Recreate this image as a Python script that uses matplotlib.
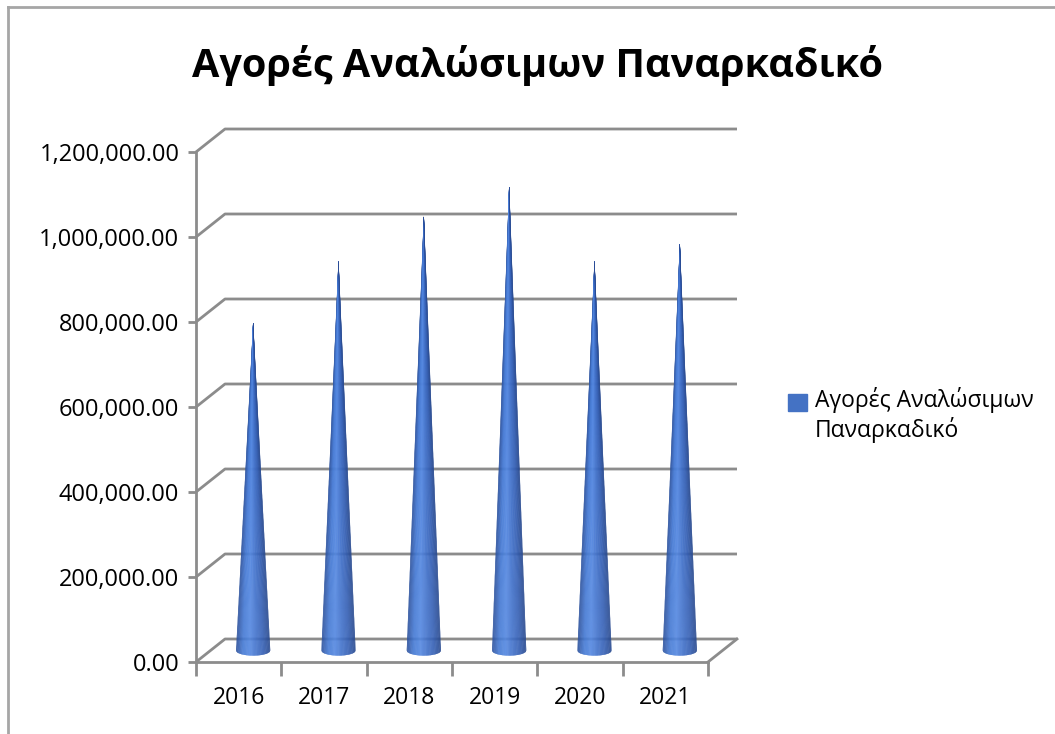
import matplotlib
matplotlib.use("Agg")
import matplotlib.pyplot as plt
import numpy as np
from matplotlib.colors import LinearSegmentedColormap
from matplotlib.patches import Patch

plt.rcParams['font.family'] = ['Open Sans', 'DejaVu Sans']

title = "Αγορές Αναλώσιμων Παναρκαδικό"
series_name = "Αγορές Αναλώσιμων\nΠαναρκαδικό"
years = ["2016", "2017", "2018", "2019", "2020", "2021"]
purchases = [770000, 915000, 1020000, 1090000, 915000, 955000]
y_ticks = [0, 200000, 400000, 600000, 800000, 1000000, 1200000]

W, H, DPI = 1055, 734, 100
grid_col = "#8c8c8c"

fig = plt.figure(figsize=(W / DPI, H / DPI), dpi=DPI)
# front plane of the 3-D box
ax_l, ax_b, ax_w, ax_h = 196, 72, 512, 510
ax = fig.add_axes([ax_l / W, ax_b / H, ax_w / W, ax_h / H])
ax.set_xlim(0, len(years))
ax.set_ylim(0, y_ticks[-1])

# depth of the box in pixels, converted to data units
px_x = len(years) / ax_w
px_y = y_ticks[-1] / ax_h
dx, dy = 29 * px_x, 23 * px_y
n = len(years)

# side wall + back wall gridlines
for v in y_ticks:
    ax.plot([0, dx, n + dx], [v, v + dy, v + dy], color=grid_col, lw=2,
            clip_on=False, zorder=1, solid_capstyle='butt')
# floor
ax.plot([n, n + dx], [0, dy], color=grid_col, lw=2, clip_on=False, zorder=1)

# cones, shaded in vertical slices
cmap = LinearSegmentedColormap.from_list(
    "cone", ["#2c519c", "#4479d4", "#5488e2", "#4272cb", "#3560b5", "#284a90"])
r = 17 * px_x
b = 5 * px_y
ts = np.linspace(-1, 1, 61)
for i, val in enumerate(purchases):
    xc = i + 0.5 + dx / 2
    yb = dy / 2
    for k in range(len(ts) - 1):
        t0, t1 = ts[k], ts[k + 1]
        xs = [xc, xc + t0 * r, xc + t1 * r]
        ys = [val + yb,
              yb - b * np.sqrt(max(0, 1 - t0 ** 2)),
              yb - b * np.sqrt(max(0, 1 - t1 ** 2))]
        c = cmap((t0 + t1) / 4 + 0.5)
        ax.fill(xs, ys, color=c, lw=0.15, ec=c, zorder=3, clip_on=False)

# axes lines and ticks
for s in ["top", "right"]:
    ax.spines[s].set_visible(False)
for s in ["left", "bottom"]:
    ax.spines[s].set_color(grid_col)
    ax.spines[s].set_linewidth(2)
    ax.spines[s].set_zorder(4)

ax.set_yticks(y_ticks)
ax.set_yticklabels([f"{v:,.2f}" for v in y_ticks])
ax.tick_params(axis='y', direction='out', length=6, width=2, color=grid_col,
               labelsize=17, pad=6)
ax.set_xticks(range(n + 1))
ax.set_xticklabels([])
ax.set_xticks(np.arange(n) + 0.5, minor=True)
ax.set_xticklabels(years, minor=True)
ax.tick_params(axis='x', which='major', direction='out', length=10, width=2,
               color=grid_col)
ax.tick_params(axis='x', which='minor', length=0, labelsize=16.5, pad=17)
ax.set_facecolor("none")

fig.text(538 / W, 1 - 66 / H, title, ha='center', va='center',
         fontsize=28.5, fontweight='bold')

leg = fig.legend(handles=[Patch(color="#4472c4", label=series_name)],
                 loc='upper left', bbox_to_anchor=(779 / W, 1 - 378 / H),
                 frameon=False, fontsize=16.5, handlelength=0.8,
                 handleheight=0.8, handletextpad=0.35, labelspacing=0.2,
                 borderaxespad=0)
# line the square up with the first line of the label
sq = leg.legend_handles[0]
sq.set_y(sq.get_y() + 10)

# chart border
fig.add_artist(plt.Line2D([8 / W, 1], [1 - 7 / H, 1 - 7 / H], color="#a6a6a6",
                          lw=2, transform=fig.transFigure))
fig.add_artist(plt.Line2D([8 / W, 8 / W], [0, 1 - 7 / H], color="#a6a6a6",
                          lw=2, transform=fig.transFigure))

fig.savefig("out.png", dpi=DPI)
